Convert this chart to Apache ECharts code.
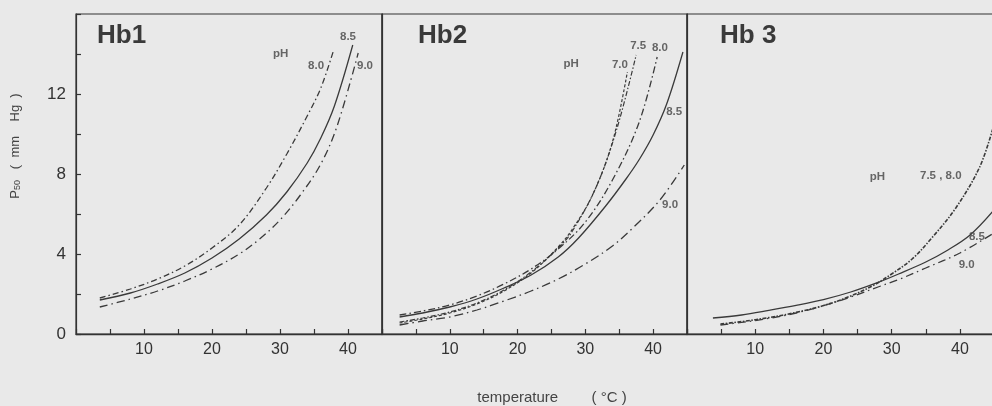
<!DOCTYPE html>
<html>
<head>
<meta charset="utf-8">
<script src="https://cdn.jsdelivr.net/npm/echarts@6/dist/echarts.min.js"></script>
<style>
html,body{margin:0;padding:0;background:#e9e9e9;}
#c{width:992px;height:406px;}
</style>
</head>
<body>
<div id="c"></div>
<script>
// ---- data (temperature °C, P50 mm Hg) ----
const panelTitles = ['Hb1', 'Hb2', 'Hb 3'];
const xTickLabels = [10, 20, 30, 40];
const yTickLabels = [0, 4, 8, 12];

const hb1_pH80 = [[3.5,1.8],[8,2.25],[12,2.75],[16,3.4],[20,4.3],[24,5.45],[28,7.3],[31,9.0],[34,10.9],[36,12.3],[37.8,14.1]];
const hb1_pH85 = [[3.5,1.7],[8,2.05],[12,2.5],[16,3.05],[20,3.8],[24,4.75],[28,5.95],[31,7.1],[34,8.55],[36,9.8],[38,11.4],[40.7,14.45]];
const hb1_pH90 = [[3.5,1.35],[8,1.75],[12,2.15],[16,2.65],[20,3.25],[24,4.0],[27,4.75],[30,5.7],[33,6.95],[36,8.5],[38.4,10.4],[41.5,14.05]];

const hb2_pH70 = [[2.6,0.55],[6,0.75],[10,1.05],[14,1.5],[18,2.15],[22,3.05],[26,4.35],[28,5.2],[31,6.9],[34,9.6],[36.2,13.1]];
const hb2_pH75 = [[2.6,0.6],[6,0.8],[10,1.1],[14,1.55],[18,2.2],[22,3.1],[26,4.3],[28,5.1],[31.6,7.35],[34.6,10.2],[37.5,13.95]];
const hb2_pH80 = [[2.6,0.95],[6,1.15],[10,1.45],[14,1.9],[18,2.5],[22,3.25],[26,4.25],[30,5.6],[34,7.7],[37.9,10.55],[40.6,13.85]];
const hb2_pH85 = [[2.6,0.85],[6,1.05],[10,1.35],[14,1.75],[18,2.3],[22,2.95],[26,3.85],[29,4.8],[33,6.4],[36,7.75],[38,8.75],[40,9.95],[42,11.5],[44.4,14.1]];
const hb2_pH90 = [[2.6,0.45],[6,0.65],[10,0.85],[14,1.2],[18,1.65],[22,2.15],[26,2.75],[30,3.5],[34,4.4],[37,5.3],[41,6.7],[44.6,8.45]];

const hb3_pH75_80 = [[4.9,0.5],[8,0.62],[12,0.82],[16,1.08],[20,1.42],[24,1.9],[27.4,2.45],[30,3.0],[33,3.75],[36,4.85],[39.4,6.3],[42.9,8.35],[44.9,10.35]];
const hb3_pH85 = [[3.8,0.8],[8,0.95],[12,1.18],[16,1.43],[20,1.72],[24,2.1],[28,2.58],[31,3.0],[35,3.6],[38,4.15],[41.5,4.95],[45,6.2]];
const hb3_pH90 = [[4.9,0.45],[8,0.58],[12,0.78],[16,1.05],[20,1.42],[24,1.85],[28,2.35],[31,2.72],[35,3.3],[40,4.05],[45,5.05]];

// curve annotations: [temperature, P50, text]
const hb1_labels = [[30.1,14.0,'pH'],[40,14.85,'8.5'],[35.3,13.4,'8.0'],[42.5,13.4,'9.0']];
const hb2_labels = [[27.9,13.5,'pH'],[37.8,14.4,'7.5'],[41.0,14.3,'8.0'],[35.1,13.45,'7.0'],[43.1,11.1,'8.5'],[42.5,6.45,'9.0']];
const hb3_labels = [[27.9,7.85,'pH'],[37.2,7.9,'7.5 , 8.0'],[42.5,4.85,'8.5'],[41,3.45,'9.0']];

// ---- chart ----
const FONT = '"Liberation Sans", Arial, Helvetica, sans-serif';
const INK = '#333';
const LINE = '#3a3a3a';

const grids = [
  {left: 76, top: 14, width: 306, height: 320},
  {left: 382, top: 14, width: 305, height: 320},
  {left: 687, top: 14, width: 307, height: 320}
].map(g => Object.assign(g, {show: true, borderColor: '#333', borderWidth: 1.2, backgroundColor: 'transparent', containLabel: false, outerBoundsMode: 'none'}));

const xAxes = [0,1,2].map(i => ({
  type: 'value', gridIndex: i, min: 0, max: 45, interval: 5,
  axisLine: {show: true, onZero: false, lineStyle: {color: '#333', width: 1.3}},
  axisTick: {show: true, inside: true, length: 5, lineStyle: {color: '#333', width: 1.2}},
  axisLabel: {
    margin: 8, fontSize: 16, color: INK, fontFamily: FONT,
    formatter: v => xTickLabels.indexOf(v) >= 0 ? String(v) : ''
  },
  splitLine: {show: false}
}));

const yAxes = [0,1,2].map(i => ({
  type: 'value', gridIndex: i, min: 0, max: 16, interval: 2,
  axisLine: {show: true, lineStyle: {color: '#333', width: 1.2}},
  axisTick: {show: i === 0, inside: true, length: 5, lineStyle: {color: '#333', width: 1.2}},
  axisLabel: {
    show: i === 0, margin: 10, fontSize: 17, fontWeight: 500, color: INK, fontFamily: FONT,
    formatter: v => yTickLabels.indexOf(v) >= 0 ? String(v) : ''
  },
  splitLine: {show: false}
}));

function curve(gi, name, data, type, width) {
  return {
    type: 'line', name: name, xAxisIndex: gi, yAxisIndex: gi, data: data,
    showSymbol: false, smooth: 0.35, silent: true, z: 3,
    lineStyle: {color: LINE, width: width || 1.3, type: type}
  };
}
function labels(gi, data) {
  return {
    type: 'scatter', xAxisIndex: gi, yAxisIndex: gi, data: data,
    symbolSize: 0, silent: true, z: 5,
    label: {
      show: true, position: 'inside', formatter: p => p.data[2],
      fontSize: 11.5, fontWeight: 'bold', color: '#444', fontFamily: FONT
    }
  };
}

const series = [
  curve(0, 'Hb1 pH 8.0', hb1_pH80, [6,3,1.5,3]),
  curve(0, 'Hb1 pH 8.5', hb1_pH85, 'solid'),
  curve(0, 'Hb1 pH 9.0', hb1_pH90, [8,4,1.5,4]),
  curve(1, 'Hb2 pH 7.0', hb2_pH70, [3,2], 1.2),
  curve(1, 'Hb2 pH 7.5', hb2_pH75, [5,2,1.5,2], 1.2),
  curve(1, 'Hb2 pH 8.0', hb2_pH80, [7,3,1.5,3]),
  curve(1, 'Hb2 pH 8.5', hb2_pH85, 'solid'),
  curve(1, 'Hb2 pH 9.0', hb2_pH90, [9,4,1.5,4]),
  curve(2, 'Hb3 pH 7.5, 8.0', hb3_pH75_80, [4,1.5,1.5,1.5], 1.6),
  curve(2, 'Hb3 pH 8.5', hb3_pH85, 'solid'),
  curve(2, 'Hb3 pH 9.0', hb3_pH90, [8,4,1.5,4]),
  labels(0, hb1_labels),
  labels(1, hb2_labels),
  labels(2, hb3_labels)
];

const titleLefts = [97, 418, 720];
const title = panelTitles.map((t, i) => ({
  text: t, left: titleLefts[i] - 5, top: 18,
  textStyle: {fontSize: 26, fontWeight: 'bold', color: '#3a3a3a', fontFamily: FONT}
}));

const chart = echarts.init(document.getElementById('c'), null, {renderer: 'canvas'});
chart.setOption({
  backgroundColor: '#e9e9e9',
  animation: false,
  title: title,
  grid: grids,
  xAxis: xAxes,
  yAxis: yAxes,
  series: series,
  graphic: [
    {
      type: 'text', x: 15, y: 146, rotation: Math.PI / 2, silent: true,
      style: {
        text: 'P{s|50}   (  mm    Hg  )', align: 'center', verticalAlign: 'middle',
        fontSize: 13, fill: '#444', fontFamily: FONT,
        rich: {s: {fontSize: 9, fill: '#444', fontFamily: FONT, padding: [0,0,-6,0]}}
      }
    },
    {
      type: 'text', x: 552, y: 398, silent: true,
      style: {
        text: 'temperature        ( °C )', align: 'center', verticalAlign: 'middle',
        fontSize: 15, fill: '#444', fontFamily: FONT
      }
    }
  ]
});
</script>
</body>
</html>
